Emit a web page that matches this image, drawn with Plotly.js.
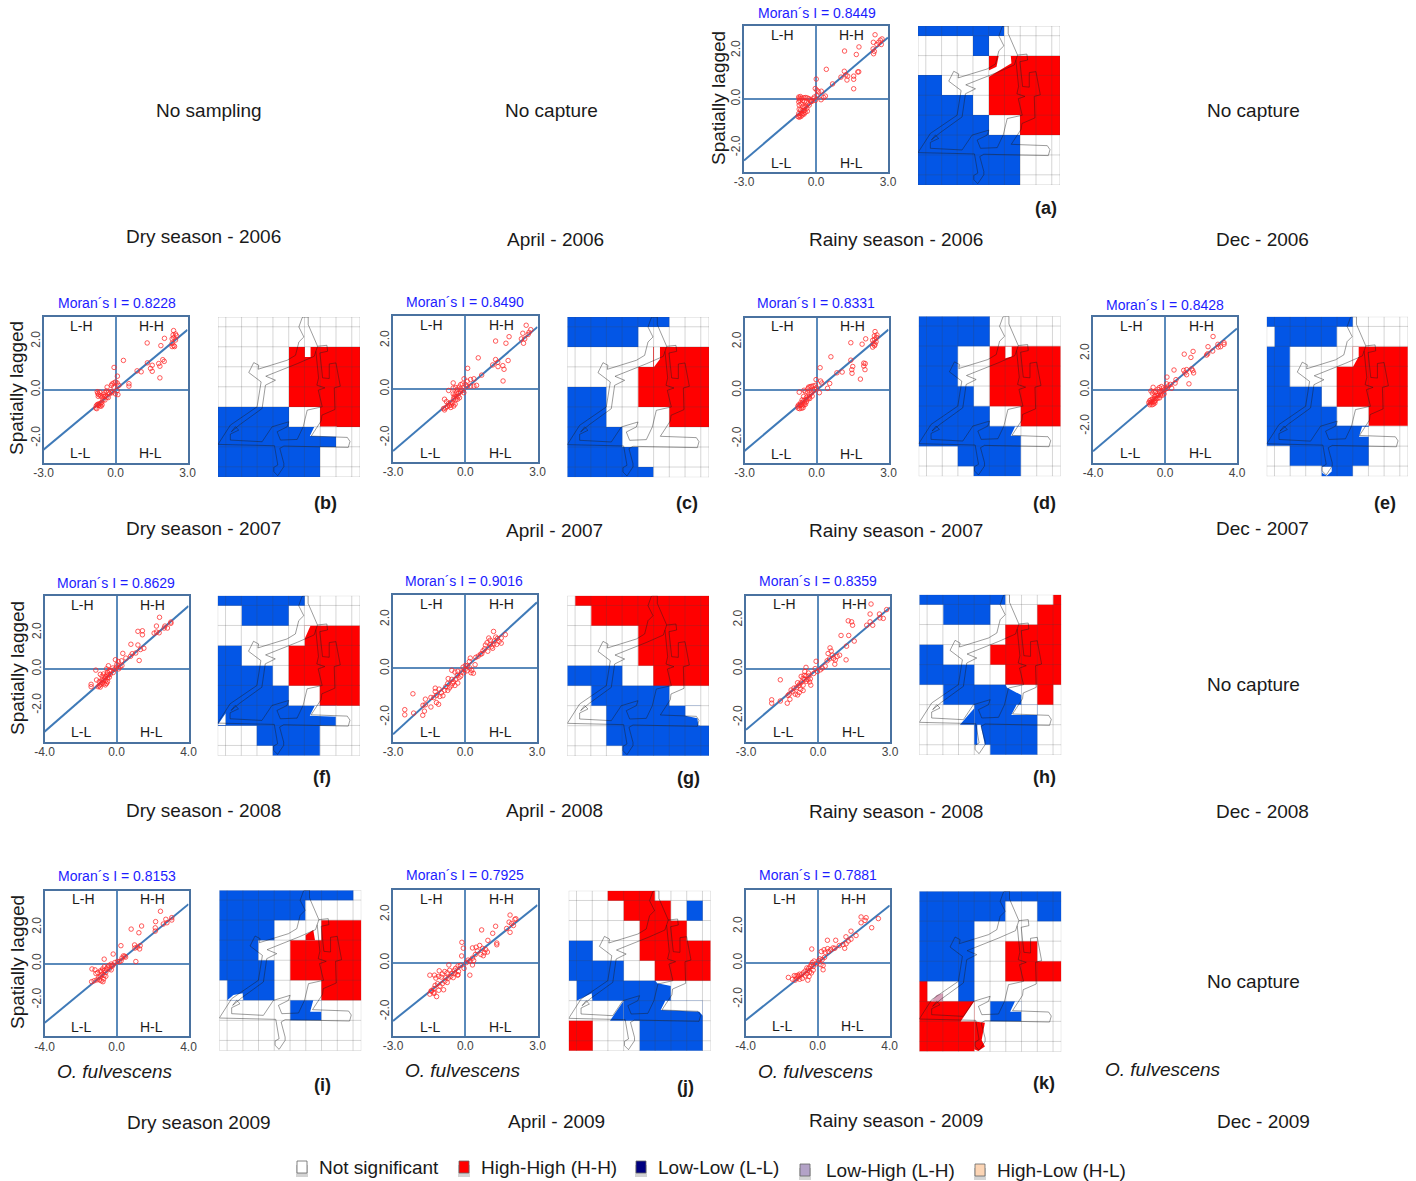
<!DOCTYPE html>
<html><head><meta charset="utf-8">
<script src="https://cdn.plot.ly/plotly-3.0.1.min.js"></script>
<style>html,body{margin:0;padding:0;background:#fff}#chart{width:1416px;height:1181px}</style>
</head><body><div id="chart"></div>
<script>
// ---------- values ----------
const panelIds = ['a','b','c','d','e','f','g','h','i','j','k'];
const moranValues = ['0.8449','0.8228','0.8490','0.8331','0.8428','0.8629','0.9016','0.8359','0.8153','0.7925','0.7881'];
const xLimits = [3,3,3,3,4,4,3,3,4,3,4];
const yLimits = [3,3,3,3,4,4,3,3,4,3,4];
const lineEnds = [2.53,2.47,2.55,2.5,3.37,3.45,2.7,2.51,3.26,2.38,3.15];

const ptsA = [[2.46,2.64],[2.39,2.33],[2.75,2.47],[2.68,2.42],[2.61,2.33],[2.54,2.24],[2.72,2.24],[2.38,2.06],[2.43,1.96],[2.4,1.86],[1.79,2.14],[1.19,1.97],[1.68,1.83],[.43,1.22],[1.18,1.14],[1.78,1.12],[1.74,1.11],[1.24,.99],[1.04,.9],[1.32,.94],[1.57,.94],[1.57,.81],[1.29,.78],[.69,.62],[1.57,.42],[.01,.82],[.22,.32],[-.03,.43],[.04,.36],[.11,.29],[.39,.12],[.32,.06],[.21,-.03],[.04,.15],[-.07,.08],[-.12,.01],[-.03,-.06],[-.17,-.1],[-.72,.08],[-.7,.02],[-.68,-.05],[-.72,-.12],[-.65,.1],[-.6,.03],[-.52,.05],[-.45,.06],[-.38,.05],[-.3,.02],[-.25,-.03],[-.2,-.08],[-.55,-.06],[-.48,-.1],[-.4,-.12],[-.34,-.2],[-.28,-.25],[-.7,-.25],[-.62,-.2],[-.55,-.3],[-.48,-.35],[-.42,-.3],[-.38,-.38],[-.7,-.42],[-.64,-.45],[-.58,-.48],[-.52,-.5],[-.47,-.46],[-.72,-.6],[-.68,-.68],[-.63,-.72],[-.58,-.66],[-.54,-.6],[-.5,-.62],[-.75,-.72],[-.7,-.75],[-.62,-.6],[-.45,-.55],[-.36,-.5]];
const ptsB = [[2.42,2.44],[2.5,2.3],[2.4,2.26],[2.54,2.23],[2.43,2.15],[2.36,2.1],[2.5,2.05],[2.36,1.92],[2.43,1.82],[2.36,1.78],[2.46,1.78],[2.04,2.12],[1.89,1.82],[1.32,1.93],[.33,1.21],[1.33,1.11],[1.97,1.24],[2.03,1.17],[1.8,1.08],[1.85,.97],[1.53,1.01],[1.46,.88],[1.53,.76],[.9,.78],[1.07,.74],[1.85,.49],[-.06,.92],[.08,.56],[0,.32],[-.07,.28],[.07,.28],[-.14,.24],[.14,.18],[.56,.25],[.56,.15],[-.35,.11],[-.17,.18],[-.07,.11],[.07,-.03],[0,-.17],[.1,-.2],[-.14,-.12],[-.76,-.08],[-.74,-.15],[-.7,-.2],[-.66,-.1],[-.72,-.27],[-.62,-.25],[-.5,-.2],[-.44,-.12],[-.38,-.05],[-.3,-.1],[-.24,-.16],[-.18,-.08],[-.56,-.3],[-.48,-.28],[-.42,-.25],[-.36,-.3],[-.3,-.32],[-.52,-.42],[-.44,-.42],[-.58,-.52],[-.62,-.56],[-.68,-.58],[-.74,-.6],[-.8,-.66],[-.76,-.62],[-.7,-.64],[-.64,-.66],[-.6,-.68],[-.56,-.62],[-.82,-.75],[-.78,-.78]];
const ptsC = [[2.53,2.62],[2.72,2.44],[2.65,2.33],[2.61,2.24],[2.39,2.29],[2.47,2.06],[2.33,2.06],[2.42,1.88],[1.82,2.15],[1.26,1.97],[1.69,1.88],[.54,1.28],[1.26,1.21],[1.78,1.17],[1.35,1.1],[1.14,.99],[1.36,.92],[1.56,.96],[1.61,.81],[1.57,.33],[.68,.57],[.1,.85],[-.05,.42],[.08,.32],[-.12,.21],[.01,.18],[-.19,.18],[.22,.39],[.36,.42],[.47,.15],[.36,.12],[.22,.12],[.08,.11],[-.5,.25],[-.5,.04],[-.33,-.03],[-.69,-.06],[-.4,.06],[-.26,.08],[-.18,-.01],[-.1,-.06],[-.06,-.15],[-.2,-.12],[-.28,-.18],[-.36,-.14],[-.42,-.22],[-.5,-.2],[-.3,-.3],[-.38,-.33],[-.46,-.32],[-.24,-.36],[-.32,-.42],[-.4,-.44],[-.48,-.4],[-.86,-.42],[-.78,-.52],[-.7,-.6],[-.6,-.55],[-.52,-.58],[-.58,-.66],[-.66,-.68],[-.74,-.72],[-.82,-.78],[-.9,-.8],[-.86,-.86],[-.6,-.76],[-.48,-.7],[-.42,-.62]];
const ptsD = [[2.44,2.42],[2.52,2.28],[2.41,2.24],[2.5,2.18],[2.42,2.1],[2.34,2.06],[2.48,2.0],[2.36,1.92],[2.42,1.84],[2.34,1.78],[2.44,1.9],[2.05,2.12],[1.9,1.9],[1.43,1.96],[.6,1.38],[1.43,1.24],[1.97,1.12],[2.03,1.1],[1.97,1.0],[2.02,.85],[1.51,.98],[1.47,.85],[1.48,.7],[.85,.72],[1.07,.75],[1.83,.46],[.15,.93],[-.02,.44],[.17,.38],[.22,.3],[.55,.28],[.46,.08],[.12,-.1],[0,.1],[-.08,.04],[-.05,.2],[-.14,.18],[-.22,.16],[-.27,.14],[-.33,.13],[-.36,.06],[-.72,-.08],[-.52,0],[-.46,-.06],[-.36,-.1],[-.28,-.18],[-.22,-.12],[-.12,-.02],[-.18,-.24],[-.3,-.28],[-.42,-.3],[-.54,-.26],[-.6,-.4],[-.52,-.42],[-.44,-.38],[-.36,-.36],[-.28,-.34],[-.66,-.52],[-.58,-.5],[-.5,-.52],[-.42,-.48],[-.78,-.66],[-.74,-.6],[-.7,-.62],[-.64,-.6],[-.58,-.64],[-.52,-.6],[-.46,-.58],[-.76,-.74],[-.7,-.76],[-.62,-.74],[-.56,-.72]];
const ptsE = [[2.67,2.93],[3.28,2.59],[3.28,2.5],[3.09,2.37],[2.94,2.5],[2.96,2.35],[2.39,2.37],[2.65,2.13],[2.37,1.98],[2.31,1.91],[1.56,2.11],[1.07,1.96],[1.44,1.78],[.5,1.09],[1.04,1.07],[1.2,1.11],[1.48,1.15],[1.54,1.06],[1.59,.93],[1.11,.93],[1.2,.83],[1.33,.33],[.11,.7],[.61,.56],[.56,.37],[.09,.33],[.37,.09],[.3,.3],[.2,.22],[.1,.08],[0,.02],[-.1,.1],[-.2,.18],[-.32,.12],[-.4,.02],[-.52,-.12],[-.78,-.06],[-.66,.14],[-.7,-.18],[-.62,-.1],[-.3,-.1],[-.2,-.18],[-.12,-.06],[-.05,-.22],[-.15,-.3],[-.25,-.3],[-.35,-.26],[-.42,-.32],[-.5,-.3],[-.58,-.36],[-.3,-.44],[-.4,-.46],[-.48,-.48],[-.55,-.46],[-.62,-.52],[-.7,-.5],[-.78,-.55],[-.85,-.6],[-.9,-.7],[-.82,-.72],[-.76,-.66],[-.68,-.68],[-.6,-.64],[-.54,-.6],[-.72,-.82],[-.64,-.78],[-.56,-.72],[-.84,-.82]];
const ptsF = [[2.39,2.83],[2.22,2.35],[2.69,2.35],[3.02,2.57],[3.02,2.5],[2.83,2.24],[2.65,2.24],[2.37,1.98],[2.22,2.02],[2.09,1.96],[1.44,2.09],[1.19,2.06],[1.44,1.87],[.8,1.35],[1.19,1.31],[1.52,1.13],[1.33,1.06],[1.07,.87],[.87,.83],[.78,.69],[1.26,.46],[.35,.85],[.52,.59],[.28,.44],[-.06,.5],[.1,.4],[.02,.24],[.3,.18],[.2,.12],[.12,0],[0,.1],[-.1,-.02],[-.45,.17],[-.2,.05],[-.3,-.1],[-.18,-.2],[-.4,-.1],[-.5,-.2],[-.35,-.3],[-.45,-.35],[-.55,-.33],[-.6,-.42],[-.5,-.5],[-.4,-.46],[-.72,-.28],[-.65,-.5],[-.7,-.62],[-.6,-.65],[-.5,-.7],[-.8,-.4],[-.85,-.72],[-.78,-.76],[-.7,-.82],[-.62,-.88],[-.55,-.8],[-1.15,-.07],[-1.11,-.61],[-1.41,-.85],[-1.41,-.98],[-1.02,-.98],[-.95,-.92],[-.9,-1.0],[-.88,-.85],[-.96,-.7],[-.8,-.6],[-.55,.0],[-.9,-.3]];
const ptsG = [[-2.17,-1.04],[-2.51,-1.69],[-2.51,-1.9],[-2.14,-1.83],[-1.76,-1.92],[-1.65,-1.26],[-1.69,-1.75],[-1.42,-1.58],[-1.75,-1.51],[-1.65,-1.49],[-1.19,-1.4],[-1.1,-1.47],[-1.42,-1.19],[-1.24,-.81],[-1.24,-.95],[-1.3,-1.2],[-1.18,-1.1],[-1.08,-.85],[-1.05,-1.15],[-.98,-1.0],[-.92,-1.12],[-.85,-.9],[-.8,-.75],[-.72,-.62],[-.72,-.9],[-.65,-.8],[-.58,-.72],[-.52,-.62],[-.7,-.42],[-.55,-.45],[-.48,-.55],[-.42,-.7],[-.38,-.45],[-.3,-.6],[-.32,-.28],[-.25,-.38],[-.18,-.32],[-.55,-.08],[-.42,-.15],[-.3,-.12],[-.15,-.15],[-.05,-.18],[0,-.05],[.08,-.1],[-.08,.05],[.02,.12],[.1,.1],[.2,.02],[.28,-.08],[.35,-.2],[.25,-.18],[.18,.28],[.22,.42],[.42,.15],[.45,.45],[.55,.5],[.65,.58],[.7,.6],[.75,.72],[.82,.8],[.85,.95],[.92,1.05],[.99,1.24],[1.05,.98],[1.1,.88],[1.15,.82],[1.2,1.0],[1.22,1.12],[1.28,1.28],[1.19,1.51],[1.35,1.22],[1.42,1.1],[1.32,.98],[1.51,1.24],[1.51,1.03],[1.68,1.38],[1.05,1.15],[.95,.7]];
const ptsH = [[2.21,2.65],[2.17,2.24],[2.86,2.42],[2.56,2.24],[2.72,2.06],[2.58,2.08],[2.03,1.78],[2.17,1.92],[2.28,1.78],[1.26,1.96],[1.4,1.92],[1.44,1.78],[.96,1.36],[1.28,1.36],[1.51,1.13],[1.19,.92],[1.17,.36],[.5,.85],[.55,.72],[.6,.55],[.65,.42],[.48,.4],[.38,.32],[.72,.35],[.8,.5],[.9,.55],[.7,.18],[.42,.62],[.3,.1],[.18,.02],[.1,-.05],[-.08,.3],[-.12,0],[-.02,-.12],[-.18,-.2],[-.5,.05],[-.55,-.12],[-.4,-.18],[-.38,-.3],[-.5,-.3],[-.58,-.28],[-.32,-.42],[-.42,-.45],[-.48,-.52],[-.55,-.45],[-.62,-.4],[-.68,-.55],[-.35,-.55],[-.3,-.68],[-.62,-.68],[-.75,-.62],[-.8,-.7],[-.85,-.58],[-.9,-.78],[-.72,-.85],[-.62,-.9],[-1.0,-.8],[-1.05,-.95],[-1.12,-.88],[-1.2,-1.05],[-.95,-1.05],[-.85,-1.08],[-.78,-.98],[-1.28,-1.42],[-1.17,-1.26],[-1.57,-.46],[-1.57,-1.33],[-1.93,-1.28],[-1.93,-1.42],[-1.25,-1.1],[-.7,-.32]];
const ptsI = [[2.44,2.87],[2.17,2.3],[3.07,2.52],[3.07,2.39],[2.74,2.43],[2.8,2.24],[2.15,1.96],[2.15,1.78],[2.6,2.17],[1.39,2.06],[.81,1.89],[1.24,1.69],[.24,.98],[1.0,1.02],[1.31,.98],[1.15,.9],[1.28,.8],[1.02,.85],[1.07,.11],[.45,.4],[.38,.42],[.3,.3],[.5,.35],[.25,.15],[.15,.1],[.05,.12],[-.19,.52],[-.69,.24],[-.1,.05],[-.2,-.08],[-.3,-.03],[-.42,-.1],[-.5,-.2],[-.58,-.3],[-.4,-.3],[-.3,-.35],[-.68,-.18],[-.7,-.38],[-.6,-.48],[-.78,-.3],[-.85,-.44],[-.9,-.4],[-.8,-.6],[-.7,-.65],[-.9,-.7],[-.6,-.7],[-1.0,-.78],[-1.1,-.9],[-.95,-.9],[-.85,-.95],[-.76,-1],[-.72,-.85],[-1.37,-.3],[-1.39,-1],[-1.25,-.95],[-1.15,-.55],[-1.05,-.5],[-1.2,-.35],[-.25,-.15]];
const ptsJ = [[1.86,1.97],[2.06,1.79],[1.82,1.68],[2,1.54],[1.72,1.42],[1.86,1.26],[2.1,1.82],[1.92,1.62],[1.26,1.51],[.68,1.36],[1.14,1.22],[.94,.93],[1.31,.82],[1.31,.75],[-.14,.85],[-.08,.61],[-.15,.29],[.3,.62],[.45,.65],[.6,.72],[.72,.6],[.85,.55],[.8,.42],[.75,.3],[.92,.45],[.65,.35],[.5,.5],[.42,.35],[.3,.2],[.35,.1],[.2,.08],[.12,.12],[.05,.02],[.19,-.5],[.3,-.08],[-.05,-.22],[-.3,-.12],[-.68,-.08],[-.4,-.22],[-.28,-.35],[-.32,-.5],[-.45,-.3],[-.55,-.42],[-.65,-.3],[-.75,-.4],[-.85,-.35],[-1.08,-.32],[-.6,-.55],[-.5,-.6],[-.7,-.62],[-.8,-.6],[-.95,-.45],[-1.0,-.58],[-1.1,-.55],[-1.28,-.5],[-1.22,-.62],[-1.47,-.5],[-.75,-.8],[-.85,-.75],[-.95,-.85],[-1.05,-.95],[-1.15,-.85],[-1.25,-.92],[-1.3,-1.05],[-1.4,-1.15],[-1.47,-1.28],[-1.42,-1.15],[-1.3,-1.25],[-1.19,-1.38],[-1.3,-1.2],[-1.1,-1.12],[-.9,-1.1],[-.3,-.48],[-.42,-.42],[-.2,-.1]];
const ptsK = [[2.41,2.52],[2.69,2.48],[2.41,2.2],[2.63,2.33],[3.37,2.43],[3,1.93],[2.13,1.5],[1.85,1.74],[1,1.24],[.54,1.24],[1.57,1.43],[1.85,1.3],[1.7,1.2],[1.58,1.05],[1.4,1.0],[1.2,.95],[1.5,.8],[.95,.8],[.85,.82],[.72,.72],[.55,.78],[.6,.62],[.35,.72],[.2,.62],[.42,.58],[.38,.3],[.25,.18],[.12,.22],[.05,.12],[-.33,.76],[-.2,.1],[-.3,.02],[-.08,-.05],[.18,-.1],[.3,-.15],[.3,-.38],[-.25,-.2],[-.35,-.1],[-.42,-.2],[-.5,-.3],[-.6,-.28],[-.55,-.42],[-.45,-.5],[-.35,-.55],[-.25,-.4],[-.7,-.45],[-.8,-.55],[-.9,-.65],[-1.0,-.62],[-1.1,-.68],[-1.2,-.72],[-1.3,-.7],[-1.63,-.8],[-1.4,-.9],[-1.25,-.95],[-1.15,-.85],[-1.0,-.9],[-.85,-.85],[-.7,-.72],[-.6,-.6],[-.55,-.95],[-.48,-.75],[-1.05,-.75]];

const cellsA = ['2222220000','0000200000','0000011111','2200011111','2222011111','2222200111','2222222000','2222222000','2222222000'];
const cellsB = ['0000000000','0000000000','0000011111','0000011111','0000011111','2222200111','2222222200','2222222000','2222222000'];
const cellsC = ['2222222000','2222200000','0000001111','0000011111','2220011111','2220000111','2222000000','2222200000','2222220000'];
const cellsD = ['2222200000','2222200000','2220011111','2220011111','2222011111','2222200111','2222222000','0002222000','0000222000'];
const cellsE = ['2222220000','0222200000','2200001111','2200011111','2222011111','2222200111','2222222000','0022222000','0000220000'];
const cellsF = ['2222220000','0022200000','0000001111','2200011111','2222011111','2222200111','2222222200','0002222000','0000222000'];
const cellsG = ['0111111111','0011111111','0000011111','0000011111','2222001111','0022222000','0002222220','0002222222','0000222222'];
const cellsH = ['2222220001','0022200011','0000001111','2200011111','2222001111','0022222010','0000222200','0000222200','0000022200'];
const cellsI = ['2222222220','2222220000','2222000111','2220011111','2222011111','0222000111','0000022000','0000000000','0000000000'];
const cellsJ = ['0001110000','0000111020','0000011100','2200011111','2222001111','0222222000','0000222220','1100022220','1100022220'];
const cellsK = ['2222222222','2222220022','2222000000','2222001100','2222001111','1002000000','1111022000','1111000000','1111000000'];

const colEdges = [0,.055,.166,.276,.387,.498,.609,.72,.831,.942,1];
const rowEdges = [0,.061,.186,.311,.436,.561,.686,.811,.936,1];

// sampling-site outline (same in every map), in units of a 425 x 481 map
const outlineOneX = [256,270,270,288,298,326,328,305,313,333,333,353,366,348,350,311,309,279,387,395,390,197,185,197,197,179,167,167,179,169,0,37,117,129,92,107,122,120,207,232,242,257,242,252,256];
const outlineOneY = [0,0,23,63,88,85,103,108,183,185,141,138,208,213,278,295,312,358,362,374,392,388,395,440,450,477,465,452,445,387,383,325,270,195,167,137,145,157,130,115,75,60,30,2,0];
const outlineTwoX = [298,293,301,296,320,300,312,267,255,237,187,177,207,212,162,132,37,37,62,52,40,66,132,142,172,143,238,288,293];
const outlineTwoY = [88,103,183,205,213,220,270,280,330,368,370,345,330,315,330,375,370,352,340,330,345,323,275,205,190,178,140,118,103];

const WHITE='#ffffff', RED='#ff0000', BLUE='#0356e6', PINK='#d8a0b8';
const patchesA = [[WHITE,[.569,.184,.653,.184,.658,.235,.494,.323,.494,.281,.553,.256]]];
const patchesB = [[WHITE,[.612,.185,.652,.185,.652,.25,.612,.25]],[WHITE,[.679,.685,.836,.685,.836,.748,.647,.744]]];
const patchesC = [[WHITE,[.612,.187,.654,.187,.654,.262,.612,.312]]];
const patchesD = [[WHITE,[.61,.188,.655,.188,.655,.252,.61,.262]],[WHITE,[.679,.688,.723,.688,.723,.746,.648,.746]]];
const patchesE = [[WHITE,[.611,.188,.651,.188,.651,.25,.611,.313]],[WHITE,[.675,.689,.724,.689,.724,.752,.653,.752]],[WHITE,[.389,.94,.46,.94,.46,.97,.425,.996,.394,.98]]];
const patchesF = [[WHITE,[.61,.188,.652,.188,.612,.267]],[WHITE,[.682,.688,.836,.688,.836,.756,.647,.75]],[WHITE,[0,.808,.056,.735,.056,.808]]];
const patchesG = [[WHITE,[.833,.686,.944,.686,.944,.81,.925,.81,.918,.765,.833,.749]]];
const patchesH = [[BLUE,[.286,.811,.387,.709,.387,.811]],[WHITE,[.608,.561,.721,.561,.721,.628,.617,.579]],[WHITE,[.721,.686,.831,.686,.831,.751,.648,.751,.685,.686]],[WHITE,[.408,.811,.432,.811,.462,.936,.408,.936]]];
const patchesI = [[RED,[.608,.279,.662,.247,.674,.312,.608,.312]],[WHITE,[.056,.686,.169,.686,.165,.642,.099,.653]],[WHITE,[.662,.686,.721,.686,.721,.757,.64,.757]]];
const patchesJ = [[WHITE,[.056,.686,.167,.686,.162,.64]],[BLUE,[.291,.811,.387,.686,.387,.811]],[WHITE,[.68,.686,.944,.686,.944,.78,.92,.755,.648,.745]],[WHITE,[.61,.561,.721,.561,.721,.594,.624,.578]]];
const patchesK = [[PINK,[.087,.686,.167,.686,.167,.636,.122,.647]],[WHITE,[.291,.811,.387,.686,.387,.811]],[WHITE,[.674,.686,.721,.686,.721,.751,.64,.751]],[RED,[.387,.811,.462,.819,.439,.927,.462,.968,.415,.996,.387,.985]]];

const allPts = [ptsA,ptsB,ptsC,ptsD,ptsE,ptsF,ptsG,ptsH,ptsI,ptsJ,ptsK];
const allCells = [cellsA,cellsB,cellsC,cellsD,cellsE,cellsF,cellsG,cellsH,cellsI,cellsJ,cellsK];
const allPatches = [patchesA,patchesB,patchesC,patchesD,patchesE,patchesF,patchesG,patchesH,patchesI,patchesJ,patchesK];

const legendLabels = ['Not significant','High-High (H-H)','Low-Low (L-L)','Low-High (L-H)','High-Low (H-L)'];
const legendColors = ['#ffffff','#ff0000','#000080','#b3a2c7','#fcd5b5'];

const seasonLabels = [
 ['Dry season - 2006',203,237],['April - 2006',555,240],['Rainy season - 2006',896,240],['Dec - 2006',1262,240],
 ['Dry season - 2007',203,529],['April - 2007',554,530],['Rainy season - 2007',896,530],['Dec - 2007',1262,529],
 ['Dry season - 2008',203,810],['April - 2008',554,810],['Rainy season - 2008',896,811],['Dec - 2008',1262,811],
 ['Dry season 2009',199,1122],['April - 2009',556,1121],['Rainy season - 2009',896,1120],['Dec - 2009',1263,1121],
 ['No sampling',209,111],['No capture',551,111],['No capture',1253,111],['No capture',1253,684],['No capture',1253,981]];

// ---------- layout geometry (pixels) ----------
const W=1416,H=1181;
const scatterBoxes=[[744,888,26,172],[43.5,187.5,317,462.5],[393,537.5,316,462],[744.5,888.5,317.5,463],[1093,1237,317,462.7],[44.5,188.5,596,741.7],[393,537,595,741.7],[746,890,595.5,741.7],[44.7,188.5,890.7,1036.3],[393,537.5,890,1036],[745.7,889.7,890,1035.7]];
const mapBoxes=[[918,1060,26,185],[218,360,317,477],[567.3,709,317,477.3],[918.7,1060.7,316.3,476.3],[1266.7,1408,316.7,476.3],[217.7,360,595.7,755.7],[567.3,709,595.7,756],[919.3,1061.3,594.7,755],[219.3,361.3,890.3,1050.7],[568.7,710.7,890.7,1051],[919.3,1061.3,891.3,1051.7]];
const moranPos=[[817,13],[116.7,303],[465,302],[816,303],[1165,304.5],[116,583],[464,581],[818,580.5],[117,876],[465,875],[818,875]];
const letterPos=[[1046,208],[325,503],[687,503],[1044,503],[1385,503],[322,777],[688,778],[1044,777],[322,1085],[685,1087],[1044,1083]];
const laggedPos=[[719,98],[17,388],[17,668],[17,962]];
const fulvPos=[[115,1071],[463,1070],[816,1071],[1163,1069]];
const legendSwatch=[[302,1167],[464,1167],[641,1167],[805,1170],[980,1170]];
const legendText=[[317,1167],[479,1167],[656,1167],[824,1170],[995,1170]];

const FONT='"Liberation Sans", Arial, sans-serif';
const X=p=>p/W, Y=p=>1-p/H;
const traces=[], annotations=[], shapes=[];
const layout={width:W,height:H,margin:{l:0,r:0,t:0,b:0,pad:0},paper_bgcolor:'#fff',plot_bgcolor:'rgba(0,0,0,0)',showlegend:false,font:{family:FONT},hovermode:false};

function note(text,x,y,size,opt){annotations.push(Object.assign({text:text,x:X(x),y:Y(y),xref:'paper',yref:'paper',showarrow:false,xanchor:'center',yanchor:'middle',font:{family:FONT,size:size,color:'#1a1a1a'}},opt||{}));}
const fmt=v=>v.toFixed(1);
const gridX=[],gridY=[];
colEdges.forEach(c=>{gridX.push(c,c,null);gridY.push(0,1,null);});
rowEdges.forEach(r=>{gridX.push(0,1,null);gridY.push(r,r,null);});
const outX=outlineOneX.concat([null],outlineTwoX).map(v=>v===null?null:v/425);
const outY=outlineOneY.concat([null],outlineTwoY).map(v=>v===null?null:v/481);

panelIds.forEach((id,i)=>{
  // scatter panel
  const ax=2*i+1, sx=scatterBoxes[i], xl=xLimits[i], yl=yLimits[i], pts=allPts[i], e=lineEnds[i];
  const axisCommon={showgrid:false,zeroline:true,zerolinecolor:'#5a8abb',zerolinewidth:2,showline:true,mirror:true,linecolor:'#4a72a0',linewidth:2,ticks:'',tickfont:{family:FONT,size:12,color:'#444'},fixedrange:true};
  layout['xaxis'+ax]=Object.assign({},axisCommon,{domain:[X(sx[0]),X(sx[1])],range:[-xl,xl],anchor:'y'+ax,tickmode:'array',tickvals:[-xl,0,xl],ticktext:[-xl,0,xl].map(fmt),ticklabelstandoff:-2});
  layout['yaxis'+ax]=Object.assign({},axisCommon,{domain:[Y(sx[3]),Y(sx[2])],range:[-yl,yl],anchor:'x'+ax,tickmode:'array',tickvals:[-2,0,2],ticktext:['-2.0','0.0','2.0'],tickangle:-90,ticklabelstandoff:-3});
  traces.push({type:'scatter',mode:'lines',x:[-xl,xl],y:[-e,e],xaxis:'x'+ax,yaxis:'y'+ax,line:{color:'#3f7ab8',width:2},hoverinfo:'skip'});
  traces.push({type:'scatter',mode:'markers',x:pts.map(p=>p[0]),y:pts.map(p=>p[1]),xaxis:'x'+ax,yaxis:'y'+ax,marker:{symbol:'circle-open',size:4.5,color:'rgba(255,40,40,0.85)',line:{width:0.9}},hoverinfo:'skip'});
  const w=sx[1]-sx[0],h=sx[3]-sx[2];
  note('L-H',sx[0]+.267*w,sx[2]+.06*h,14);
  note('H-H',sx[0]+.75*w,sx[2]+.06*h,14);
  note('L-L',sx[0]+.255*w,sx[2]+.936*h,14);
  note('H-L',sx[0]+.745*w,sx[2]+.936*h,14);
  note('Moran´s I = '+moranValues[i],moranPos[i][0],moranPos[i][1],14,{font:{family:FONT,size:14,color:'#1c1cff'}});
  note('<b>('+id+')</b>',letterPos[i][0],letterPos[i][1],18);
  // map panel
  const am=2*i+2, mb=mapBoxes[i];
  const hidden={visible:false,fixedrange:true};
  layout['xaxis'+am]=Object.assign({},hidden,{domain:[X(mb[0]),X(mb[1])],range:[0,1],anchor:'y'+am});
  layout['yaxis'+am]=Object.assign({},hidden,{domain:[Y(mb[3]),Y(mb[2])],range:[1,0],anchor:'x'+am});
  traces.push({type:'heatmap',x:colEdges,y:rowEdges,z:allCells[i].map(r=>r.split('').map(Number)),xaxis:'x'+am,yaxis:'y'+am,zmin:0,zmax:2,showscale:false,hoverinfo:'skip',
    colorscale:[[0,WHITE],[.33,WHITE],[.33,RED],[.66,RED],[.66,BLUE],[1,BLUE]]});
  allPatches[i].forEach(p=>{
    traces.push({type:'scatter',mode:'lines',fill:'toself',fillcolor:p[0],line:{width:0,color:p[0]},x:p[1].filter((v,k)=>k%2===0),y:p[1].filter((v,k)=>k%2===1),xaxis:'x'+am,yaxis:'y'+am,hoverinfo:'skip'});
  });
  traces.push({type:'scatter',mode:'lines',x:gridX,y:gridY,xaxis:'x'+am,yaxis:'y'+am,line:{color:'rgba(70,70,70,0.22)',width:1},hoverinfo:'skip',connectgaps:false,cliponaxis:false});
  traces.push({type:'scatter',mode:'lines',x:outX,y:outY,xaxis:'x'+am,yaxis:'y'+am,line:{color:'rgba(30,30,30,0.55)',width:0.8},hoverinfo:'skip',connectgaps:false,cliponaxis:false});
});

seasonLabels.forEach(s=>note(s[0],s[1],s[2],19));
laggedPos.forEach(p=>note('Spatially lagged',p[0],p[1],19,{textangle:-90}));
fulvPos.forEach(p=>note('<i>O. fulvescens</i>',p[0],p[1],19));

legendLabels.forEach((t,i)=>{
  const s=legendSwatch[i], l=legendText[i];
  shapes.push({type:'rect',xref:'paper',yref:'paper',x0:X(s[0]-6),x1:X(s[0]+6),y0:Y(s[1]+10),y1:Y(s[1]-2),fillcolor:'rgba(130,130,130,0.35)',line:{width:0}});
  shapes.push({type:'rect',xref:'paper',yref:'paper',x0:X(s[0]-5),x1:X(s[0]+5),y0:Y(s[1]+6),y1:Y(s[1]-6),fillcolor:legendColors[i],line:{color:'#666',width:0.8}});
  note(t,l[0],l[1],19,{xanchor:'left'});
});

layout.annotations=annotations;
layout.shapes=shapes;
Plotly.newPlot('chart',traces,layout,{displayModeBar:false,responsive:false});
</script></body></html>
